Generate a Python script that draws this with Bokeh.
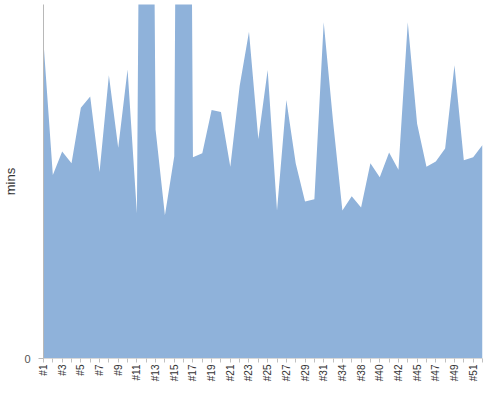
import math
from bokeh.plotting import figure
from bokeh.models import ColumnDataSource, Range1d, FixedTicker
from bokeh.embed import file_html
from bokeh.resources import INLINE

categories = ["#1", "#2", "#3", "#4", "#5", "#6", "#7", "#8", "#9", "#10",
              "#11", "#12", "#13", "#14", "#15", "#16", "#17", "#18", "#19", "#20",
              "#21", "#22", "#23", "#24", "#25", "#26", "#27", "#28", "#29", "#30",
              "#31", "#33", "#34", "#36", "#38", "#39", "#40", "#41", "#42", "#44",
              "#45", "#46", "#47", "#48", "#49", "#50", "#51", "#52"]
mins = [53.6, 31.1, 35.1, 33.1, 42.5, 44.4, 31.6, 48.0, 35.7, 49.0,
        24.6, 246.0, 38.8, 24.3, 34.3, 295.0, 34.1, 34.8, 42.1, 41.8,
        32.5, 46.2, 55.4, 37.2, 48.9, 25.1, 43.8, 33.1, 26.6, 27.0,
        57.0, 40.2, 25.1, 27.5, 25.6, 33.1, 30.7, 34.9, 32.0, 57.0,
        39.8, 32.5, 33.4, 35.6, 49.7, 33.6, 34.1, 36.2]
y_max = 60

idx = list(range(len(categories)))
source = ColumnDataSource(data=dict(x=idx, y=mins, cat=categories))

p = figure(width=484, height=384,
           x_range=Range1d(0, len(categories) - 1), y_range=Range1d(0, y_max),
           output_backend="svg", toolbar_location=None,
           min_border_left=0, min_border_right=2, min_border_top=4, min_border_bottom=0)
p.outline_line_color = None
p.xgrid.visible = False
p.ygrid.visible = False

p.varea(x="x", y1=0, y2="y", source=source, fill_color="#8fb2da")

major = [i for i in idx if i % 2 == 0]
minor = [i for i in idx if i % 2 == 1]
p.xaxis.ticker = FixedTicker(ticks=major, minor_ticks=minor)
p.xaxis.major_label_overrides = {i: categories[i] for i in major}
p.xaxis.major_label_orientation = math.pi / 2
p.xaxis.major_label_text_font = "Liberation Sans"
p.xaxis.major_label_text_font_size = "10px"
p.xaxis.major_label_text_color = "#333333"
p.xaxis.major_label_standoff = 2
p.xaxis.axis_line_color = "#d9d9d9"
p.xaxis.major_tick_line_color = "#c0c0c0"
p.xaxis.minor_tick_line_color = "#c0c0c0"
p.xaxis.major_tick_in = 0
p.xaxis.major_tick_out = 4
p.xaxis.minor_tick_in = 0
p.xaxis.minor_tick_out = 4

p.yaxis.ticker = FixedTicker(ticks=[0], minor_ticks=[])
p.yaxis.axis_label = "mins"
p.yaxis.axis_label_text_font = "Liberation Sans"
p.yaxis.axis_label_text_font_size = "13px"
p.yaxis.axis_label_text_font_style = "normal"
p.yaxis.axis_label_text_color = "#333333"
p.yaxis.axis_label_standoff = 3
p.yaxis.major_label_text_font = "Liberation Sans"
p.yaxis.major_label_text_font_size = "11px"
p.yaxis.major_label_text_color = "#555555"
p.yaxis.major_label_standoff = 8
p.yaxis.axis_line_color = "#b8b8b8"
p.yaxis.major_tick_line_color = "#b8b8b8"
p.yaxis.major_tick_in = 0
p.yaxis.major_tick_out = 5

open("out.html", "w").write(file_html(p, INLINE))
